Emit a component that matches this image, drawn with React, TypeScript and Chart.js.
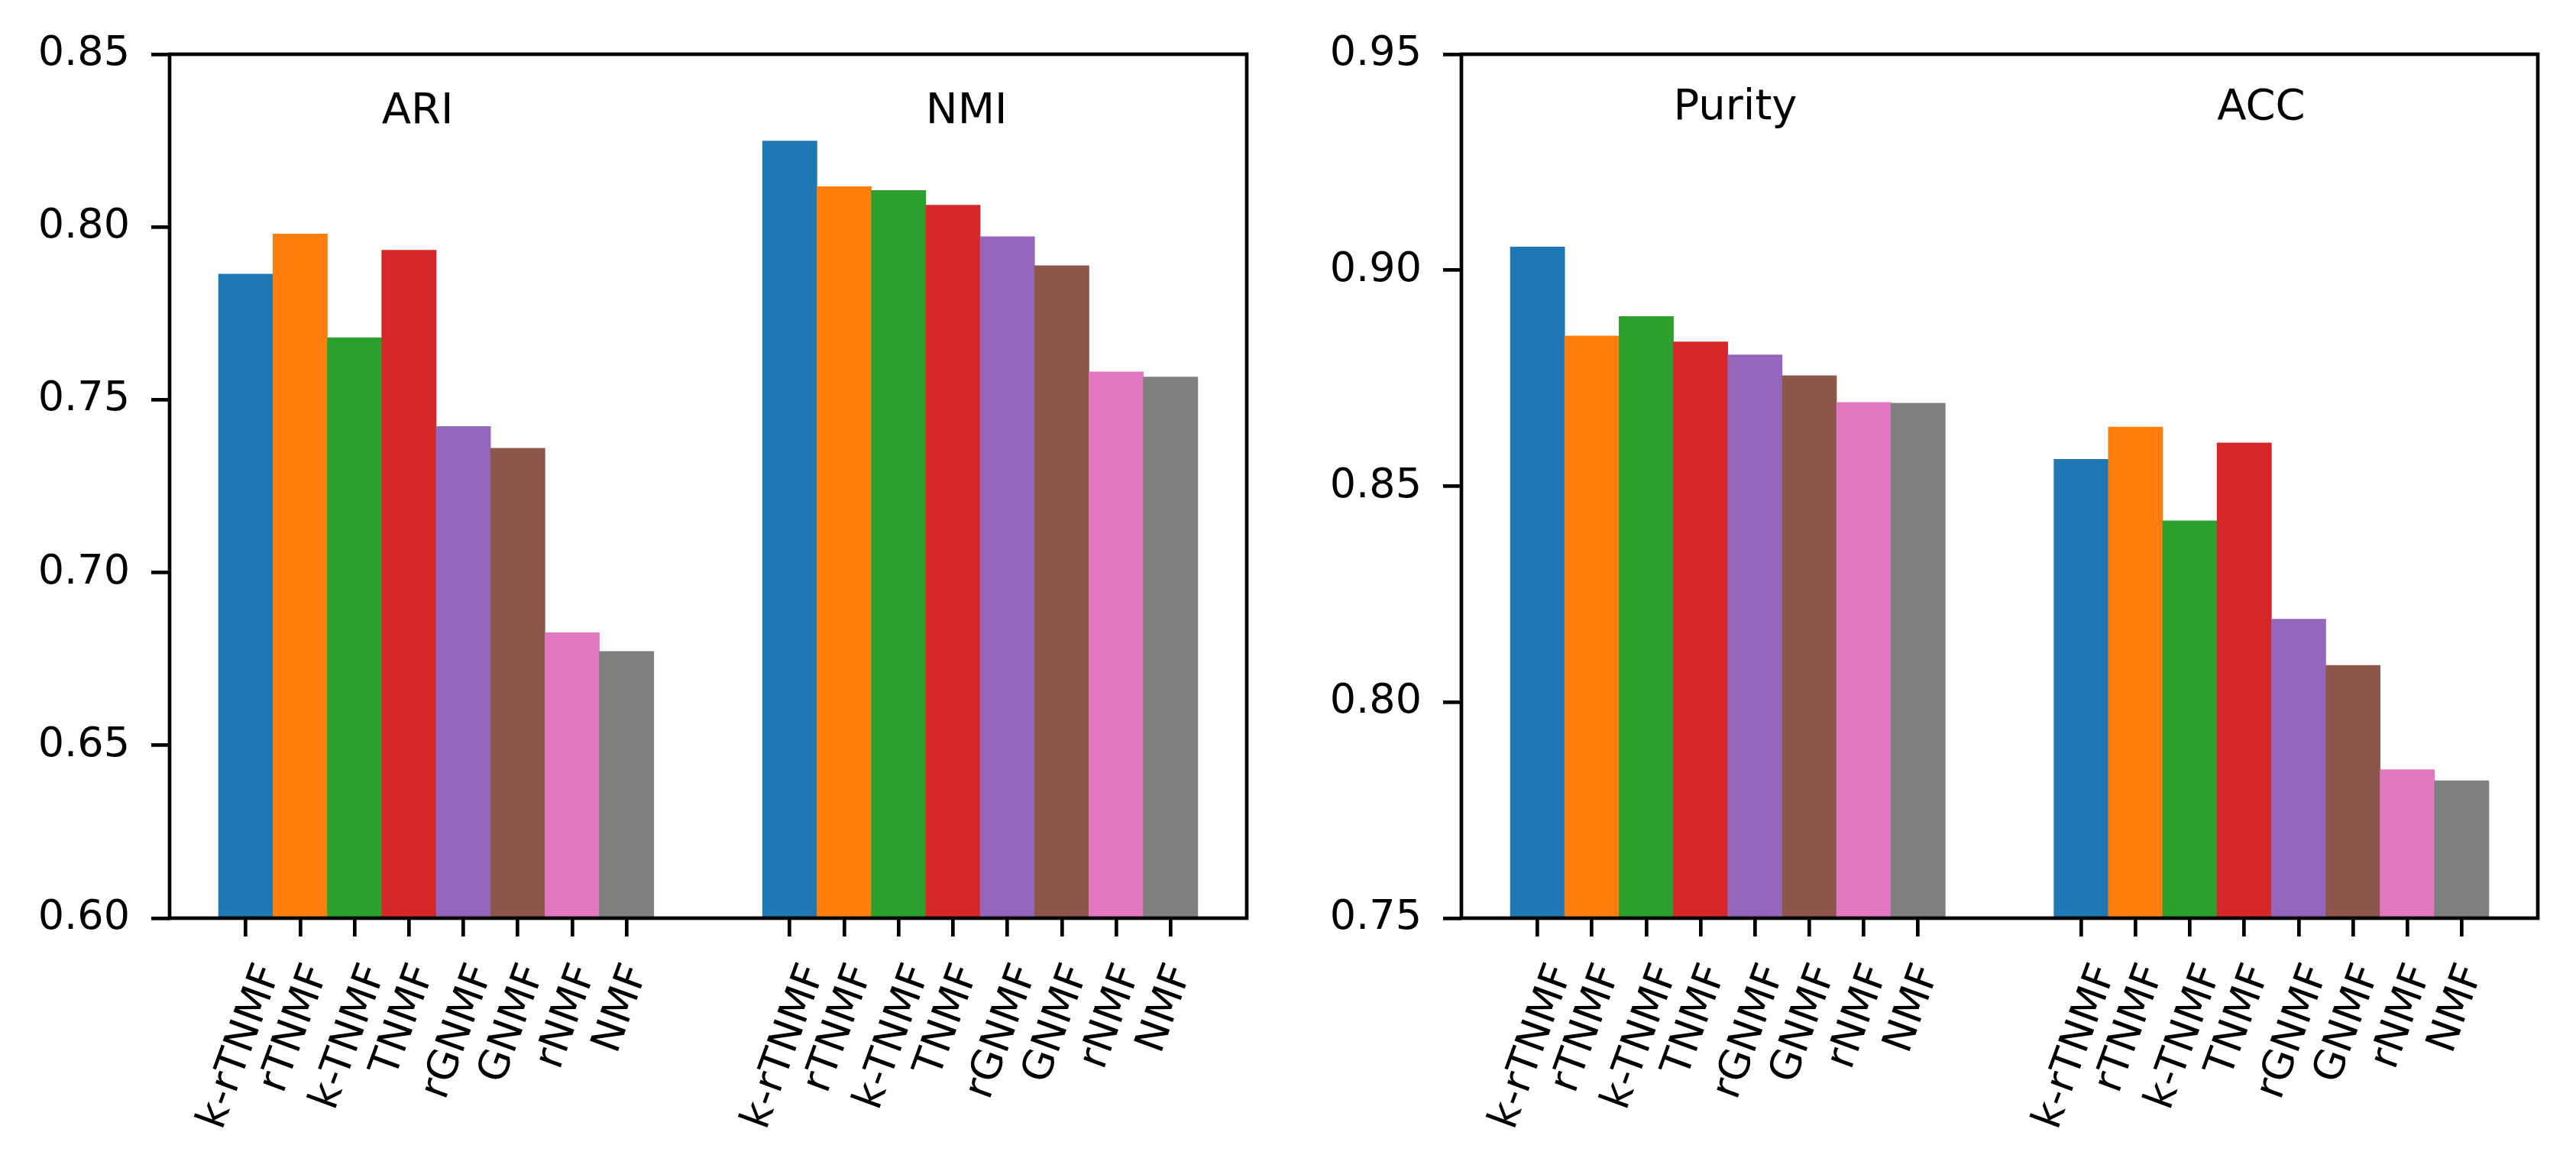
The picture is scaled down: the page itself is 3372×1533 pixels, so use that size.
import React, { useEffect, useRef } from 'react';
import { Chart, registerables } from 'chart.js';

Chart.register(...registerables);

const methods = ['k-rTNMF', 'rTNMF', 'k-TNMF', 'TNMF', 'rGNMF', 'GNMF', 'rNMF', 'NMF'];
const colors = ['#1f77b4', '#ff7f0e', '#2ca02c', '#d62728', '#9467bd', '#8c564b', '#e377c2', '#7f7f7f'];

const ari = [0.7864, 0.798, 0.768, 0.7933, 0.7423, 0.736, 0.6826, 0.6772];
const nmi = [0.8249, 0.8117, 0.8106, 0.8063, 0.7972, 0.7888, 0.7581, 0.7566];
const purity = [0.9054, 0.8848, 0.8893, 0.8834, 0.8804, 0.8756, 0.8694, 0.8692];
const acc = [0.8562, 0.8637, 0.842, 0.86, 0.8192, 0.8085, 0.7844, 0.7818];

const leftTicks = [0.6, 0.65, 0.7, 0.75, 0.8, 0.85];
const rightTicks = [0.75, 0.8, 0.85, 0.9, 0.95];

const FONT = 'DejaVu Sans';
const LW = 4.7;
const H = 1533;

const framePlugin = {
  id: 'frame',
  afterDraw(chart: any, _args: any, opts: any) {
    const { ctx, chartArea: a, scales } = chart;
    ctx.save();
    ctx.strokeStyle = '#000';
    ctx.lineWidth = LW;
    ctx.strokeRect(a.left, a.top, a.right - a.left, a.bottom - a.top);

    ctx.fillStyle = '#000';
    ctx.font = `56px "${FONT}"`;
    ctx.textAlign = 'left';
    ctx.textBaseline = 'alphabetic';
    for (const t of opts.notes) {
      ctx.fillText(t.text, scales.x.getPixelForValue(t.x), scales.y.getPixelForValue(t.y));
    }

    const fs = 54;
    ctx.font = `${fs}px "${FONT}"`;
    const th = (70 * Math.PI) / 180;
    const c = Math.cos(th);
    const s = Math.sin(th);
    const asc = 0.76 * fs;
    const desc = 0.24 * fs;
    const top = a.bottom + 54;
    opts.positions.forEach((p: number, i: number) => {
      const label = opts.labels[i];
      const W = ctx.measureText(label).width;
      const pts = [
        [0, -desc],
        [0, asc],
        [W, -desc],
        [W, asc],
      ].map(([u, v]) => [c * u - s * v, -s * u - c * v]);
      const minX = Math.min(...pts.map((q) => q[0]));
      const maxX = Math.max(...pts.map((q) => q[0]));
      const minY = Math.min(...pts.map((q) => q[1]));
      const px = scales.x.getPixelForValue(p);
      const ox = px - (minX + maxX) / 2 - 6;
      const oy = top - minY;
      ctx.save();
      ctx.translate(ox, oy);
      ctx.rotate(-th);
      ctx.fillText(label, 0, 0);
      ctx.restore();
    });
    ctx.restore();
  },
};

function buildConfig(
  a: number[],
  b: number[],
  nameA: string,
  nameB: string,
  yTicks: number[],
  noteY: number,
  axisLeft: number,
  padRight: number
) {
  const positions: number[] = [];
  const labels: string[] = [];
  const points: { x: number; y: number }[] = [];
  const bg: string[] = [];
  [a, b].forEach((vals, g) => {
    vals.forEach((v, i) => {
      const x = g * 10 + i;
      positions.push(x);
      labels.push(methods[i]);
      points.push({ x, y: v });
      bg.push(colors[i]);
    });
  });
  const gridOpts = {
    drawOnChartArea: false,
    drawTicks: true,
    offset: false,
    tickLength: 24,
    tickWidth: LW,
    tickColor: '#000',
    color: '#000',
    lineWidth: LW,
  };
  return {
    type: 'bar',
    data: {
      datasets: [
        {
          data: points,
          backgroundColor: bg,
          borderWidth: 0,
          barPercentage: 1,
          categoryPercentage: 1,
        },
      ],
    },
    options: {
      responsive: false,
      animation: false,
      devicePixelRatio: 1,
      events: [],
      layout: { padding: { left: 0, top: 71, right: padRight, bottom: H - 1202 - 100 } },
      plugins: {
        legend: { display: false },
        tooltip: { enabled: false },
        frame: {
          notes: [
            { text: nameA, x: 2.5, y: noteY },
            { text: nameB, x: 12.5, y: noteY },
          ],
          positions,
          labels,
        },
      },
      scales: {
        x: {
          type: 'linear',
          offset: false,
          min: -1.4,
          max: 18.4,
          afterBuildTicks: (sc: any) => {
            sc.ticks = positions.map((v) => ({ value: v }));
          },
          afterFit: (sc: any) => {
            sc.height = 100;
          },
          ticks: { display: false },
          grid: gridOpts,
          border: { display: false },
        },
        y: {
          min: yTicks[0],
          max: yTicks[yTicks.length - 1],
          afterBuildTicks: (sc: any) => {
            sc.ticks = yTicks.map((v) => ({ value: v }));
          },
          afterFit: (sc: any) => {
            sc.width = axisLeft;
          },
          ticks: {
            color: '#000',
            padding: 28,
            font: { size: 54, family: FONT },
            callback: (v: any) => Number(v).toFixed(2),
          },
          grid: gridOpts,
          border: { display: false },
        },
      },
    },
    plugins: [framePlugin],
  };
}

function Panel({ left, width, config }: { left: number; width: number; config: any }) {
  const ref = useRef<HTMLCanvasElement>(null);
  useEffect(() => {
    if (!ref.current) return;
    const chart = new Chart(ref.current, config);
    return () => chart.destroy();
  }, []);
  return (
    <canvas
      ref={ref}
      width={width}
      height={H}
      style={{ position: 'absolute', left, top: 0, width, height: H }}
    />
  );
}

export default function App() {
  const leftCfg = buildConfig(ari, nmi, 'ARI', 'NMI', leftTicks, 0.83, 222, 1700 - 1632);
  const rightCfg = buildConfig(purity, acc, 'Purity', 'ACC', rightTicks, 0.935, 1913 - 1700, 1672 - (3322 - 1700));
  return (
    <div style={{ position: 'fixed', left: 0, top: 0, width: 3372, height: H, background: '#fff' }}>
      <Panel left={0} width={1700} config={leftCfg} />
      <Panel left={1700} width={1672} config={rightCfg} />
    </div>
  );
}
